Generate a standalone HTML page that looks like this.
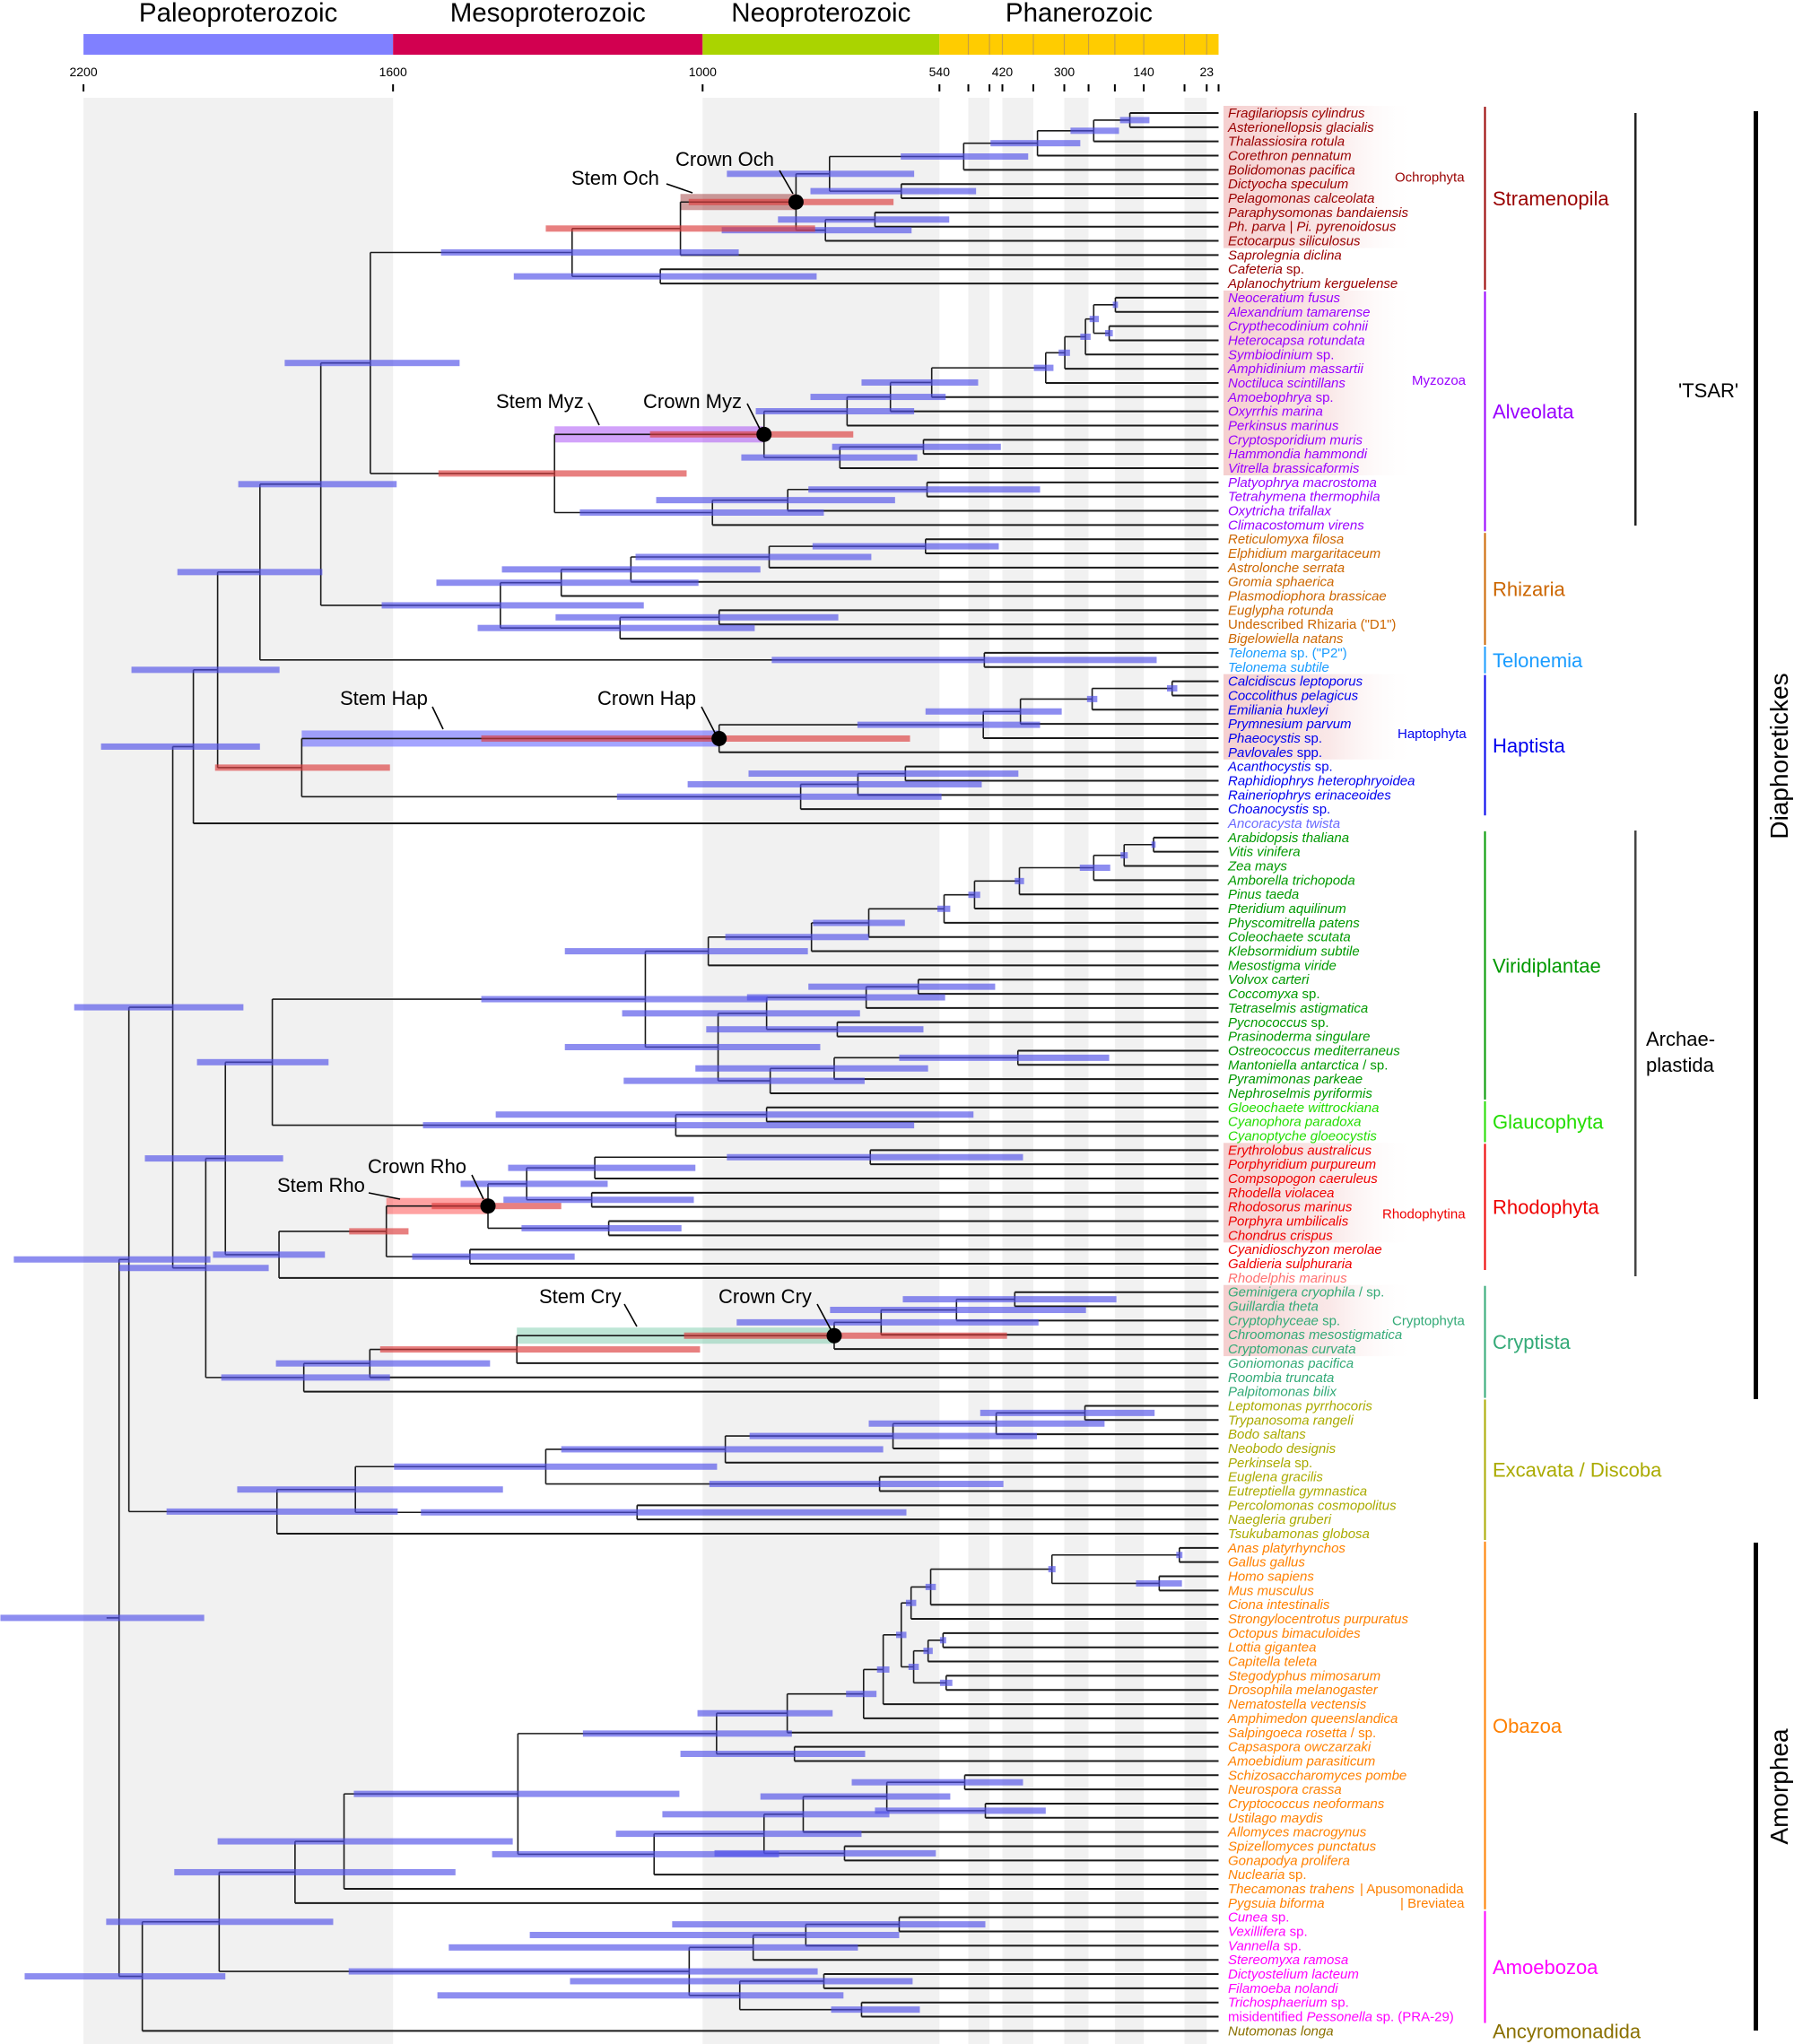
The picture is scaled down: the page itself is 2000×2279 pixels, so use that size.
<!DOCTYPE html>
<html><head><meta charset="utf-8">
<style>
html,body{margin:0;padding:0;background:#fff;}
svg{display:block;font-family:"Liberation Sans",sans-serif;}
</style></head>
<body>
<svg id="chart" width="2000" height="2279" viewBox="0 0 2000 2279" xmlns="http://www.w3.org/2000/svg">
<defs>
<linearGradient id="hl" x1="0" x2="1" y1="0" y2="0">
<stop offset="0" stop-color="#f3c6c6" stop-opacity="0.85"/>
<stop offset="0.55" stop-color="#f6d8d8" stop-opacity="0.6"/>
<stop offset="1" stop-color="#ffffff" stop-opacity="0"/>
</linearGradient>
</defs>
<g id="bg"></g><g id="hlg"></g><g id="stems"></g><g id="lines"></g><g id="bars"></g><g id="dots"></g><g id="labels"></g><g id="anno"></g>
</svg>
<script>
// ---- data ----
const eraNames=["Paleoproterozoic","Mesoproterozoic","Neoproterozoic","Phanerozoic"];
const eraStart=[2200,1600,1000,541];
const eraEnd=[1600,1000,541,0];
const eraColors=["#8080ff","#d20050","#aad400","#ffcc00"];
const periodBounds=[485,444,419,359,299,252,201,145,66,23];
const tickAges=[2200,1600,1000,541,485,444,419,359,299,252,201,145,66,23,0];
const tickLabelAges=[2200,1600,1000,541,419,299,145,23];
const tickLabels=["2200","1600","1000","540","420","300","140","23"];
const shadeStart=[2200,1000,485,419,299,201,66];
const shadeEnd=[1600,541,444,359,252,145,23];

const leafNames=["Fragilariopsis cylindrus","Asterionellopsis glacialis","Thalassiosira rotula","Corethron pennatum","Bolidomonas pacifica","Dictyocha speculum","Pelagomonas calceolata","Paraphysomonas bandaiensis","Ph. parva | Pi. pyrenoidosus","Ectocarpus siliculosus","Saprolegnia diclina","Cafeteria {sp.}","Aplanochytrium kerguelense",
"Neoceratium fusus","Alexandrium tamarense","Crypthecodinium cohnii","Heterocapsa rotundata","Symbiodinium {sp.}","Amphidinium massartii","Noctiluca scintillans","Amoebophrya {sp.}","Oxyrrhis marina","Perkinsus marinus","Cryptosporidium muris","Hammondia hammondi","Vitrella brassicaformis","Platyophrya macrostoma","Tetrahymena thermophila","Oxytricha trifallax","Climacostomum virens",
"Reticulomyxa filosa","Elphidium margaritaceum","Astrolonche serrata","Gromia sphaerica","Plasmodiophora brassicae","Euglypha rotunda","{Undescribed Rhizaria (\"D1\")}","Bigelowiella natans",
"Telonema {sp. (\"P2\")}","Telonema subtile",
"Calcidiscus leptoporus","Coccolithus pelagicus","Emiliania huxleyi","Prymnesium parvum","Phaeocystis {sp.}","Pavlovales {spp.}","Acanthocystis {sp.}","Raphidiophrys heterophryoidea","Raineriophrys erinaceoides","Choanocystis {sp.}",
"Ancoracysta twista",
"Arabidopsis thaliana","Vitis vinifera","Zea mays","Amborella trichopoda","Pinus taeda","Pteridium aquilinum","Physcomitrella patens","Coleochaete scutata","Klebsormidium subtile","Mesostigma viride","Volvox carteri","Coccomyxa {sp.}","Tetraselmis astigmatica","Pycnococcus {sp.}","Prasinoderma singulare","Ostreococcus mediterraneus","Mantoniella antarctica {/ sp.}","Pyramimonas parkeae","Nephroselmis pyriformis",
"Gloeochaete wittrockiana","Cyanophora paradoxa","Cyanoptyche gloeocystis",
"Erythrolobus australicus","Porphyridium purpureum","Compsopogon caeruleus","Rhodella violacea","Rhodosorus marinus","Porphyra umbilicalis","Chondrus crispus","Cyanidioschyzon merolae","Galdieria sulphuraria","Rhodelphis marinus",
"Geminigera cryophila {/ sp.}","Guillardia theta","Cryptophyceae {sp.}","Chroomonas mesostigmatica","Cryptomonas curvata","Goniomonas pacifica","Roombia truncata","Palpitomonas bilix",
"Leptomonas pyrrhocoris","Trypanosoma rangeli","Bodo saltans","Neobodo designis","Perkinsela {sp.}","Euglena gracilis","Eutreptiella gymnastica","Percolomonas cosmopolitus","Naegleria gruberi","Tsukubamonas globosa",
"Anas platyrhynchos","Gallus gallus","Homo sapiens","Mus musculus","Ciona intestinalis","Strongylocentrotus purpuratus","Octopus bimaculoides","Lottia gigantea","Capitella teleta","Stegodyphus mimosarum","Drosophila melanogaster","Nematostella vectensis","Amphimedon queenslandica","Salpingoeca rosetta {/ sp.}","Capsaspora owczarzaki","Amoebidium parasiticum","Schizosaccharomyces pombe","Neurospora crassa","Cryptococcus neoformans","Ustilago maydis","Allomyces macrogynus","Spizellomyces punctatus","Gonapodya prolifera","Nuclearia {sp.}","Thecamonas trahens","Pygsuia biforma",
"Cunea {sp.}","Vexillifera {sp.}","Vannella {sp.}","Stereomyxa ramosa","Dictyostelium lacteum","Filamoeba nolandi","Trichosphaerium {sp.}","{misidentified }Pessonella{ sp. (PRA-29)}",
"Nutomonas longa"];

const groupNames=["Stramenopila","Alveolata","Rhizaria","Telonemia","Haptista","Viridiplantae","Glaucophyta","Rhodophyta","Cryptista","Excavata / Discoba","Obazoa","Amoebozoa","Ancyromonadida"];
const groupFirst=[0,13,30,38,40,51,70,73,83,91,101,127,135];
const groupLast=[12,29,37,39,49,69,72,81,90,100,126,134,135];
const groupColors=["#990000","#9900ff","#cc6600","#1a9cff","#0000ee","#009900","#22dd00","#ee0000","#33aa77","#aaaa00","#ff8000","#ff00ff","#8a7000"];
const extraLeafIdx=[50,82];
const extraLeafColor=["#6b6bff","#ff7070"];
const highlightFirst=[0,13,40,73,83];
const highlightLast=[9,25,45,79,87];
const subNames=["Ochrophyta","Myzozoa","Haptophyta","Rhodophytina","Cryptophyta","| Apusomonadida","| Breviatea"];
const subRow=[4.5,12.5+6.3,3.7+40,4.5+73,2+83,125,126];
const subGroup=[0,1,4,7,8,10,10];

// tree: N(age, ciOld, ciYoung, style, child, child)
function N(a,hi,lo,s,...k){return {a:a,hi:hi,lo:lo,s:s,k:k};}
const diat=N(494,616,369,'',N(351,442,268,'',N(242,287,193,'',N(172,191,134,'',0,1),2),3),4);
const crownOch=N(819,1027,630,'red:och',N(754,953,590,'',diat,N(615,791,470,'',5,6)),N(762,963,595,'',N(666,854,522,'',7,8),9));
const stram=N(1253,1507,930,'',N(1043,1304,782,'red',crownOch,10),N(1082,1366,779,'',11,12));
const dino=N(335,358,320,'',N(298,310,288,'',N(258,268,248,'',N(242,250,232,'',N(200,205,195,'',13,14),N(212,220,205,'',15,16)),17),18),19);
const perk=N(720,897,590,'',N(636,791,529,'',N(556,692,466,'',dino,20),21),22);
const crownMyz=N(881,1102,708,'red:myz',perk,N(734,925,584,'',N(572,749,422,'',23,24),25));
const alv=N(1287,1512,1031,'red',crownMyz,N(981,1238,765,'',N(835,1090,627,'',N(565,795,346,'',26,27),28),29));
const rhiz=N(1392,1622,1114,'',N(1274,1516,1008,'',N(1139,1389,888,'',N(871,1130,673,'',N(568,787,426,'',30,31),32),33),34),N(1160,1436,899,'',N(968,1285,737,'',35,36),37));
const TSAR=N(1858,2018,1737,'',N(1740,1900,1593,'',N(1644,1810,1471,'',stram,alv),rhiz),N(454,866,120,'',38,39));
const crownHap=N(968,1429,598,'red:hap',N(456,700,346,'',N(384,568,304,'',N(245,255,235,'',N(90,100,80,'',40,41),42),43),44),45);
const hap=N(1777,1945,1606,'red',crownHap,N(810,1166,537,'',N(699,1029,459,'',N(607,911,388,'',46,47),48),49));
const TSARHA=N(1987,2166,1858,'',N(1940,2107,1820,'',TSAR,hap),50);
const angio=N(242,269,210,'',N(183,190,176,'',N(126,130,122,'',51,52),53),54);
const strept=N(989,1267,796,'',N(789,956,678,'',N(678,786,608,'',N(532,545,520,'',N(473,485,462,'',N(386,395,377,'',angio,55),56),57),58),59),60);
const chloro=N(970,1267,772,'',N(876,1156,695,'',N(683,914,530,'',N(582,795,433,'',61,62),63),N(739,993,572,'',64,65)),N(869,1153,686,'',N(745,1014,563,'',N(389,619,212,'',66,67),68),69));
const VG=N(1834,1980,1725,'',N(1111,1429,874,'',strept,chloro),N(1052,1542,590,'',N(876,1401,475,'',70,71),72));
const crownRho=N(1416,1525,1274,'red:rho',N(1341,1469,1184,'',N(1209,1377,1014,'',N(675,953,379,'',73,74),75),N(1215,1386,1017,'',76,77)),N(1182,1351,1041,'',78,79));
const arch=N(1925,2081,1813,'',VG,N(1821,1949,1732,'',N(1613,1685,1570,'red',crownRho,N(1451,1563,1248,'',80,81)),82));
const crownCry=N(745,1036,410,'red:cry',N(654,934,349,'',N(508,753,257,'',N(395,612,198,'',83,84),85),86),87);
const cry=N(1773,1933,1606,'',N(1645,1827,1412,'',N(1360,1625,1005,'red',crownCry,88),89),90);
const diaph=N(2027,2218,1890,'',TSARHA,N(1963,2131,1841,'',arch,cry));
const exc=N(1825,2039,1591,'',N(1673,1902,1387,'',N(1304,1598,972,'',N(956,1274,650,'',N(631,909,352,'',N(431,678,221,'',N(259,462,124,'',91,92),93),94),95),N(657,987,417,'',96,97)),N(1127,1546,605,'',98,99)),100);
const vert=N(323,330,316,'',N(76,82,70,'',101,102),N(115,160,71,'',103,104));
const bilat=N(615,625,605,'',N(596,606,586,'',N(558,568,548,'',vert,105),106),N(591,601,581,'',N(563,572,554,'',N(534,540,528,'',107,108),109),N(528,540,516,'',110,111)));
const holozoa=N(973,1232,827,'',N(836,1010,748,'',N(688,722,663,'',N(650,662,638,'',bilat,112),113),114),N(822,1043,685,'',115,116));
const holomyc=N(1094,1408,852,'',N(881,1168,692,'',N(805,1078,638,'',N(643,888,520,'',N(492,711,379,'',117,118),N(452,666,335,'',119,120)),121),N(725,977,548,'',122,123)),124);
const obaz=N(1790,2024,1479,'',N(1695,1940,1368,'',N(1358,1676,1045,'',holozoa,holomyc),125),126);
const amz=N(1026,1686,777,'',N(902,1492,699,'',N(800,1335,619,'',N(619,1059,452,'',127,128),129),130),N(928,1514,727,'',N(765,1257,593,'',131,132),N(692,751,579,'',133,134)));
const tree=N(2131,2361,1966,'',N(2112,2335,1954,'',diaph,exc),N(2086,2314,1925,'',N(1937,2156,1716,'',obaz,amz),135));

// ---- scales ----
function X(t){return 1358.5-0.5752*t;}
function Yrow(i){return 126+i*15.84;}
const NS="http://www.w3.org/2000/svg";
function el(tag,attrs,parent){const e=document.createElementNS(NS,tag);for(const k in attrs)e.setAttribute(k,attrs[k]);parent.appendChild(e);return e;}
const G=id=>document.getElementById(id);

for(let i=0;i<shadeStart.length;i++){
  const r=el('rect',{x:X(shadeStart[i]),y:109,width:X(shadeEnd[i])-X(shadeStart[i]),height:2170,fill:'#f1f1f1'},G('bg'));
  
  
}
for(let i=0;i<eraNames.length;i++){
  const r=el('rect',{x:X(eraStart[i]),y:38,width:X(eraEnd[i])-X(eraStart[i]),height:23,fill:eraColors[i]},G('bg'));
  
  
  const t=el('text',{x:(X(eraStart[i])+X(eraEnd[i]))/2,y:24,'text-anchor':'middle','font-size':29.5,fill:'#000'},G('bg'));
  t.textContent=eraNames[i];
  
  
}
for(const p of periodBounds){
  const l=el('line',{x1:X(p),x2:X(p),y1:38,y2:61,stroke:'#c8a040','stroke-width':1.2},G('bg'));
  
  
}
for(const a of tickAges){
  const l=el('line',{x1:X(a),x2:X(a),y1:94,y2:102,stroke:'#000','stroke-width':2},G('bg'));
  
  
}
for(let i=0;i<tickLabels.length;i++){
  const t=el('text',{x:X(tickLabelAges[i]),y:85,'text-anchor':'middle','font-size':14},G('bg'));
  t.textContent=tickLabels[i];
  
  
}
for(let i=0;i<highlightFirst.length;i++){
  const r=el('rect',{x:1364,y:Yrow(highlightFirst[i])-8,width:215,height:Yrow(highlightLast[i])-Yrow(highlightFirst[i])+16,fill:'url(#hl)'},G('hlg'));
  
  
}

function layout(n){
  if(typeof n==='number')return {y:Yrow(n),x:X(0)};
  const c=n.k.map(layout);
  n.y=(c[0].y+c[c.length-1].y)/2;n.x=X(n.a);n.cy=c;
  return {y:n.y,x:n.x};
}
layout(tree);
const stemColor={och:'rgba(150,40,40,0.45)',myz:'rgba(165,70,245,0.5)',hap:'rgba(90,90,255,0.55)',rho:'rgba(255,70,70,0.5)',cry:'rgba(110,200,165,0.45)'};
function draw(n,parentX){
  if(typeof n==='number')return;
  const vl=el('line',{x1:n.x,x2:n.x,y1:n.cy[0].y,y2:n.cy[n.cy.length-1].y,stroke:'#1a1a1a','stroke-width':1.6},G('lines'));
  
  
  n.k.forEach((c,i)=>{
    const hl=el('line',{x1:n.x,x2:n.cy[i].x,y1:n.cy[i].y,y2:n.cy[i].y,stroke:'#1a1a1a','stroke-width':typeof c==='number'?2:1.6},G('lines'));
    
    
    draw(c,n.x);
  });
  const red=n.s.indexOf('red')===0;
  const b=el('rect',{x:X(n.hi),y:n.y-3.5,width:X(n.lo)-X(n.hi),height:7,fill:red?'rgba(220,60,60,0.65)':'rgba(80,80,232,0.65)'},G('bars'));
  
  
  const sk=n.s.split(':')[1];
  if(sk){
    const px=parentX===undefined?n.x:parentX;
    const s=el('rect',{x:px,y:n.y-9,width:n.x-px,height:18,fill:stemColor[sk]},G('stems'));
    
    
    const d=el('circle',{cx:n.x,cy:n.y,r:8.5,fill:'#000'},G('dots'));
    
    
  }
}
draw(tree);
const rootStub=el('line',{x1:tree.x-14,x2:tree.x,y1:tree.y,y2:tree.y,stroke:'#1a1a1a','stroke-width':1.6},G('lines'));



function leafColor(i){
  const e=extraLeafIdx.indexOf(i);if(e>=0)return extraLeafColor[e];
  for(let g=0;g<groupFirst.length;g++)if(i>=groupFirst[g]&&i<=groupLast[g])return groupColors[g];
  return '#000';
}
leafNames.forEach((nm,i)=>{
  const t=el('text',{x:1369,y:Yrow(i)+5,'font-size':15,fill:leafColor(i)},G('labels'));
  
  
  nm.split(/(\{[^}]*\})/).forEach(part=>{
    if(!part)return;
    const plain=part[0]==='{';
    const ts=el('tspan',{'font-style':plain?'normal':'italic'},t);
    ts.textContent=plain?part.slice(1,-1):part;
  });
});
for(let g=0;g<groupNames.length;g++){
  if(g<groupNames.length-1){
    const b=el('rect',{x:1654.5,y:Yrow(groupFirst[g])-7,width:2,height:Yrow(groupLast[g])-Yrow(groupFirst[g])+14,fill:groupColors[g]},G('labels'));
    
    
  }
  const t=el('text',{x:1664,y:(Yrow(groupFirst[g])+Yrow(groupLast[g]))/2+8,'font-size':22,fill:groupColors[g]},G('labels'));
  t.textContent=groupNames[g];
  
  
}
for(let i=0;i<subNames.length;i++){
  const x=i===5?1516:(i===6?1561:[1555,1574,1558,1541,1552][i]);
  const t=el('text',{x:x,y:Yrow(subRow[i])+5,'font-size':15,fill:groupColors[subGroup[i]]},G('labels'));
  t.textContent=subNames[i];
  
  
}
</script>
<svg style="position:absolute;left:0;top:0" width="2000" height="2279" viewBox="0 0 2000 2279">
<g font-family="Liberation Sans, sans-serif" font-size="22" fill="#000" stroke="none">
<text x="637" y="206">Stem Och</text>
<text x="753" y="185">Crown Och</text>
<text x="553" y="455">Stem Myz</text>
<text x="717" y="455">Crown Myz</text>
<text x="379" y="786">Stem Hap</text>
<text x="666" y="786">Crown Hap</text>
<text x="410" y="1308">Crown Rho</text>
<text x="309" y="1329">Stem Rho</text>
<text x="601" y="1453">Stem Cry</text>
<text x="801" y="1453">Crown Cry</text>
<text x="1871" y="443">'TSAR'</text>
<text x="1835" y="1166">Archae-</text>
<text x="1835" y="1195">plastida</text>
<text transform="translate(1993,843) rotate(-90)" text-anchor="middle" font-size="28">Diaphoretickes</text>
<text transform="translate(1993,1992) rotate(-90)" text-anchor="middle" font-size="28">Amorphea</text>
</g>
<g stroke="#000" stroke-width="1.6">
<line x1="743" y1="205" x2="772" y2="215"/><line x1="869" y1="190" x2="884" y2="216"/>
<line x1="656" y1="449" x2="668" y2="474"/><line x1="833" y1="450" x2="848" y2="480"/>
<line x1="482" y1="788" x2="494" y2="813"/><line x1="782" y1="788" x2="797" y2="817"/>
<line x1="526" y1="1310" x2="539" y2="1337"/><line x1="411" y1="1330" x2="446" y2="1337"/>
<line x1="696" y1="1454" x2="710" y2="1479"/><line x1="911" y1="1454" x2="926" y2="1482"/>
</g>
<rect x="1822" y="126" width="2.5" height="460" fill="#222"/>
<rect x="1822" y="926" width="2.5" height="497" fill="#444"/>
<rect x="1955" y="124" width="5" height="1436" fill="#000"/>
<rect x="1955" y="1720" width="5" height="544" fill="#000"/>
</svg>
</body></html>
